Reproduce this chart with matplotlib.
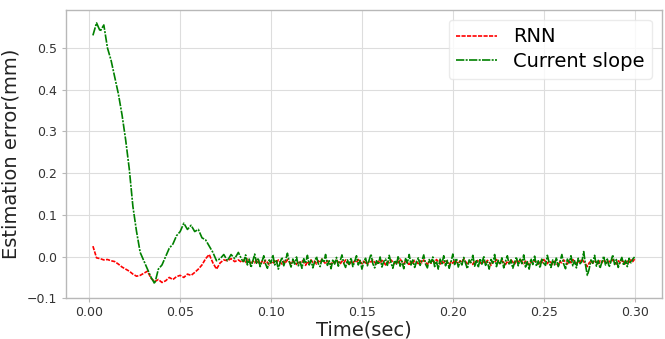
import numpy as np
import matplotlib
matplotlib.use("Agg")
import matplotlib.pyplot as plt

# time axis (sec): coarse at the start, finer afterwards
t_early = np.round(np.arange(0.002, 0.0841, 0.002), 3)
t_late = np.round(np.arange(0.085, 0.3001, 0.001), 3)

rnn_early = [0.025, -0.003, -0.005, -0.008, -0.007, -0.010, -0.012, -0.018, -0.025, -0.030,
             -0.035, -0.042, -0.047, -0.045, -0.040, -0.035, -0.052, -0.060, -0.055, -0.062,
             -0.058, -0.050, -0.055, -0.048, -0.045, -0.050, -0.042, -0.045, -0.038, -0.030,
             -0.020, -0.005, 0.005, -0.015, -0.030, -0.015, -0.008, -0.010, -0.005, -0.012,
             -0.008, -0.014]
rnn_late = [
    -0.008, -0.014, -0.006, -0.012, -0.018, -0.01, -0.015, -0.007, -0.013, -0.019, -0.011, -0.016,
    -0.009, -0.014, -0.02, -0.012, -0.017, -0.01, -0.015, -0.008, -0.013, -0.018, -0.011, -0.016,
    -0.007, -0.012, -0.017, -0.01, -0.014, -0.019, -0.011, -0.016, -0.009, -0.013, -0.021, -0.012,
    -0.017, -0.008, -0.014, -0.011, -0.018, -0.01, -0.015, -0.006, -0.012, -0.017, -0.01, -0.014,
    -0.019, -0.012, -0.016, -0.009, -0.013, -0.018, -0.011, -0.015, -0.008, -0.014, -0.02, -0.012,
    -0.016, -0.01, -0.014, -0.007, -0.012, -0.017, -0.011, -0.015, -0.019, -0.01, -0.013, -0.008,
    -0.014, -0.018, -0.011, -0.016, -0.009, -0.013, -0.02, -0.012, -0.015, -0.008, -0.013, -0.017,
    -0.011, -0.015, -0.006, -0.012, -0.018, -0.01, -0.014, -0.021, -0.012, -0.016, -0.009, -0.013,
    -0.017, -0.01, -0.015, -0.008, -0.013, -0.019, -0.011, -0.016, -0.01, -0.014, -0.007, -0.012,
    -0.018, -0.011, -0.015, -0.009, -0.014, -0.02, -0.012, -0.016, -0.008, -0.013, -0.017, -0.01,
    -0.014, -0.006, -0.012, -0.017, -0.011, -0.015, -0.019, -0.01, -0.013, -0.008, -0.014, -0.018,
    -0.011, -0.016, -0.009, -0.013, -0.021, -0.012, -0.015, -0.007, -0.012, -0.017, -0.01, -0.014,
    -0.019, -0.011, -0.016, -0.008, -0.013, -0.018, -0.01, -0.015, -0.006, -0.012, -0.017, -0.011,
    -0.014, -0.02, -0.012, -0.016, -0.009, -0.013, -0.018, -0.01, -0.015, -0.007, -0.012, -0.017,
    -0.01, -0.014, -0.019, -0.011, -0.016, -0.022, -0.012, -0.015, -0.008, -0.013, -0.018, -0.01,
    -0.015, -0.007, -0.012, -0.017, -0.011, -0.014, -0.006, -0.012, -0.018, -0.024, -0.015, -0.011,
    -0.016, -0.009, -0.013, -0.019, -0.01, -0.015, -0.008, -0.012, -0.017, -0.011, -0.014, -0.007,
    -0.012, -0.018, -0.01, -0.015, -0.009, -0.013, -0.017, -0.011, -0.014, -0.008, -0.012, -0.006]

slope_early = [0.53, 0.56, 0.54, 0.555, 0.50, 0.47, 0.43, 0.39, 0.34, 0.28,
               0.21, 0.12, 0.06, 0.01, -0.01, -0.03, -0.05, -0.065, -0.03, -0.02,
               0.0, 0.02, 0.03, 0.05, 0.06, 0.08, 0.065, 0.075, 0.06, 0.065,
               0.045, 0.04, 0.025, 0.01, -0.01, -0.005, 0.005, -0.01, 0.005, -0.005,
               0.01, -0.008]
slope_late = [
    -0.012, 0.004, -0.02, -0.006, -0.026, -0.01, 0.006, -0.016, -0.004, -0.024, -0.012, 0.002,
    -0.018, -0.028, -0.008, -0.015, 0.004, -0.02, -0.01, -0.03, -0.014, -0.002, -0.022, -0.008,
    0.008, -0.012, -0.025, -0.006, -0.018, -0.001, -0.022, -0.013, -0.028, -0.005, -0.016, 0.003,
    -0.02, -0.009, -0.027, -0.012, 0.0, -0.017, -0.024, -0.006, -0.014, 0.005, -0.021, -0.01,
    -0.029, -0.007, -0.018, -0.002, -0.023, -0.011, 0.004, -0.016, -0.026, -0.008, -0.019, -0.003,
    -0.024, -0.012, 0.002, -0.02, -0.009, -0.03, -0.013, -0.004, -0.022, -0.008, 0.006, -0.017,
    -0.027, -0.01, -0.019, -0.001, -0.025, -0.012, -0.006, -0.021, 0.003, -0.015, -0.028, -0.009,
    -0.018, 0.001, -0.023, -0.011, -0.029, -0.005, -0.016, 0.005, -0.02, -0.008, -0.026, -0.013,
    -0.003, -0.021, -0.01, 0.004, -0.018, -0.027, -0.007, -0.015, -0.001, -0.024, -0.011, -0.03,
    -0.006, -0.017, 0.002, -0.022, -0.009, -0.028, -0.013, 0.006, -0.019, -0.004, -0.025, -0.011,
    -0.02, -0.002, -0.016, -0.029, -0.008, -0.014, 0.003, -0.023, -0.01, -0.026, -0.005, -0.018,
    0.001, -0.021, -0.012, -0.03, -0.007, -0.016, 0.005, -0.024, -0.009, -0.019, -0.003, -0.027,
    -0.011, 0.002, -0.02, -0.008, -0.028, -0.014, -0.001, -0.022, -0.006, -0.017, 0.004, -0.025,
    -0.012, -0.03, -0.005, -0.019, 0.001, -0.023, -0.01, -0.027, -0.004, -0.016, -0.021, 0.003,
    -0.014, -0.026, -0.008, -0.02, -0.002, -0.024, -0.011, 0.005, -0.018, -0.029, -0.006, -0.015,
    0.002, -0.022, -0.01, -0.027, -0.004, -0.017, -0.012, 0.012, -0.02, -0.045, -0.03, -0.008,
    -0.016, 0.003, -0.023, -0.009, -0.028, -0.013, 0.001, -0.02, -0.006, -0.025, -0.011, 0.004,
    -0.019, -0.007, -0.026, -0.012, -0.002, -0.021, -0.009, -0.024, -0.004, -0.015, -0.006, -0.001]

t = np.concatenate([t_early, t_late])
rnn = rnn_early + rnn_late
slope = slope_early + slope_late

fig = plt.figure(figsize=(6.65, 3.39), dpi=100)
ax = fig.add_axes([0.099, 0.12, 0.896, 0.851])
ax.plot(t, rnn, color='red', linestyle=(0, (2.5, 0.8)), linewidth=1.2, label='RNN')
ax.plot(t, slope, color='green', linestyle=(0, (5, 0.8, 1.2, 0.8)), linewidth=1.2,
        label='Current slope')

ax.set_yticks([-0.1, 0.0, 0.1, 0.2, 0.3, 0.4, 0.5])
ax.set_xticks([0.0, 0.05, 0.10, 0.15, 0.20, 0.25, 0.30])
ax.set_xticklabels(['0.00', '0.05', '0.10', '0.15', '0.20', '0.25', '0.30'])
ax.grid(True, color='#dddddd', linewidth=0.8)
ax.set_axisbelow(True)
for s in ax.spines.values():
    s.set_color('#b8b8b8')
    s.set_linewidth(1.0)
ax.tick_params(axis='both', labelsize=9, colors='#333333', length=3, color='#b8b8b8')
ax.tick_params(axis='x', pad=2.5)
ax.set_xlabel('Time(sec)', fontsize=14, color='#222222', labelpad=1)
ax.set_ylabel('Estimation error(mm)', fontsize=14, color='#222222', labelpad=4)
leg = ax.legend(loc='upper right', fontsize=14, frameon=True, fancybox=True,
                borderpad=0.4, labelspacing=0.3, handlelength=2.1)
leg.get_frame().set_edgecolor('#e6e6e6')
fig.savefig('out.png', dpi=100)
